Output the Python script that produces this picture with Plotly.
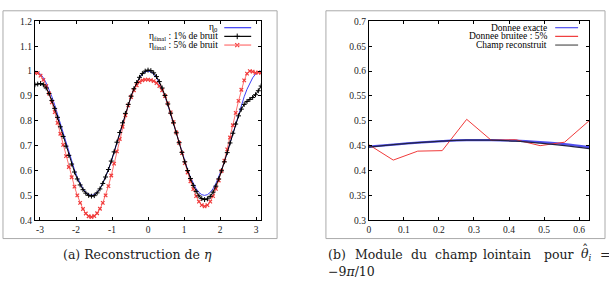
import numpy as np
import plotly.graph_objects as go

# ---------------- data: left panel (eta on [-pi, pi]) ----------------
n_pts = 81
theta = np.linspace(-np.pi, np.pi, n_pts)

eta0 = [1.000, 0.997, 0.988, 0.973, 0.952, 0.927, 0.897, 0.864, 0.827, 0.789,
        0.750, 0.711, 0.673, 0.636, 0.603, 0.573, 0.548, 0.527, 0.512, 0.503,
        0.500, 0.503, 0.512, 0.527, 0.548, 0.573, 0.603, 0.636, 0.673, 0.711,
        0.750, 0.789, 0.827, 0.864, 0.897, 0.927, 0.952, 0.973, 0.988, 0.997,
        1.000, 0.997, 0.988, 0.973, 0.952, 0.927, 0.897, 0.864, 0.827, 0.789,
        0.750, 0.711, 0.673, 0.636, 0.603, 0.573, 0.548, 0.527, 0.512, 0.503,
        0.500, 0.503, 0.512, 0.527, 0.548, 0.573, 0.603, 0.636, 0.673, 0.711,
        0.750, 0.789, 0.827, 0.864, 0.897, 0.927, 0.952, 0.973, 0.988, 0.997,
        1.000]

eta_1pct = [0.945, 0.948, 0.950, 0.945, 0.932, 0.910, 0.882, 0.850, 0.814, 0.776,
            0.737, 0.698, 0.661, 0.626, 0.594, 0.566, 0.542, 0.523, 0.509, 0.500,
            0.497, 0.499, 0.510, 0.526, 0.548, 0.574, 0.604, 0.638, 0.675, 0.714,
            0.753, 0.792, 0.830, 0.866, 0.899, 0.929, 0.954, 0.975, 0.990, 1.000,
            1.004, 1.002, 0.993, 0.978, 0.958, 0.932, 0.902, 0.868, 0.831, 0.792,
            0.752, 0.712, 0.673, 0.635, 0.600, 0.568, 0.540, 0.516, 0.498, 0.487,
            0.483, 0.486, 0.496, 0.513, 0.537, 0.566, 0.599, 0.635, 0.672, 0.711,
            0.750, 0.787, 0.820, 0.847, 0.866, 0.878, 0.886, 0.894, 0.905, 0.921,
            0.940]

eta_5pct = [0.993, 0.992, 0.982, 0.965, 0.940, 0.910, 0.874, 0.835, 0.792, 0.748,
            0.703, 0.658, 0.614, 0.573, 0.535, 0.500, 0.470, 0.445, 0.427, 0.416,
            0.413, 0.417, 0.428, 0.446, 0.470, 0.500, 0.537, 0.580, 0.628, 0.677,
            0.727, 0.776, 0.822, 0.862, 0.896, 0.923, 0.943, 0.956, 0.963, 0.966,
            0.966, 0.964, 0.960, 0.952, 0.940, 0.923, 0.900, 0.870, 0.834, 0.795,
            0.753, 0.711, 0.670, 0.630, 0.592, 0.557, 0.525, 0.497, 0.475, 0.461,
            0.456, 0.461, 0.475, 0.497, 0.526, 0.560, 0.598, 0.640, 0.685, 0.733,
            0.782, 0.832, 0.880, 0.925, 0.963, 0.990, 1.000, 0.998, 0.993, 0.995,
            0.993]

x_ticks_left = [-3, -2, -1, 0, 1, 2, 3]
x_ticklabels_left = ["-3", "-2", "-1", "0", "1", "2", "3"]
y_ticks_left = [0.4, 0.5, 0.6, 0.7, 0.8, 0.9, 1.0, 1.1, 1.2]
y_ticklabels_left = ["0.4", "0.5", "0.6", "0.7", "0.8", "0.9", "1", "1.1", "1.2"]

# ---------------- data: right panel (far field modulus) ----------------
phi = np.linspace(0, np.pi / 5, 10)
champ_exact = [0.448, 0.452, 0.456, 0.459, 0.461, 0.461, 0.460, 0.457, 0.453, 0.447]
champ_bruite = [0.452, 0.421, 0.439, 0.440, 0.503, 0.461, 0.462, 0.450, 0.457, 0.500]
champ_recon = [0.447, 0.452, 0.456, 0.459, 0.461, 0.461, 0.459, 0.455, 0.450, 0.444]

x_ticks_right = [0, 0.1, 0.2, 0.3, 0.4, 0.5, 0.6]
y_ticks_right = [0.3, 0.35, 0.4, 0.45, 0.5, 0.55, 0.6, 0.65, 0.7]

# ---------------- styling ----------------
W, H = 609, 287
TIMES = "Liberation Serif"
CMR = "DejaVu Serif"
BLUE = "#3b3bf5"
RED = "#f03a3a"
BLACK = "#000000"

fig = go.Figure()

# Left panel traces
fig.add_trace(go.Scatter(x=theta, y=eta0, mode="lines", line=dict(color=BLUE, width=1),
                         xaxis="x", yaxis="y", showlegend=False))
fig.add_trace(go.Scatter(x=theta, y=eta_5pct, mode="lines+markers",
                         line=dict(color="#ff7070", width=1),
                         marker=dict(symbol="x-thin", size=3.5, line=dict(color=RED, width=1.2)),
                         xaxis="x", yaxis="y", showlegend=False))
fig.add_trace(go.Scatter(x=theta, y=eta_1pct, mode="lines+markers",
                         line=dict(color=BLACK, width=1),
                         marker=dict(symbol="cross-thin", size=3.5, line=dict(color=BLACK, width=1)),
                         xaxis="x", yaxis="y", showlegend=False))

# Right panel traces
fig.add_trace(go.Scatter(x=phi, y=champ_exact, mode="lines", line=dict(color="#5050f0", width=2.2, shape="spline"),
                         xaxis="x2", yaxis="y2", showlegend=False))
fig.add_trace(go.Scatter(x=phi, y=champ_bruite, mode="lines", line=dict(color=RED, width=1),
                         xaxis="x2", yaxis="y2", showlegend=False))
fig.add_trace(go.Scatter(x=phi, y=champ_recon, mode="lines", line=dict(color="#222244", width=1.2, shape="spline"),
                         xaxis="x2", yaxis="y2", showlegend=False))

# Legend sample markers on a pixel-space overlay axis
fig.add_trace(go.Scatter(x=[236], y=[32.5], mode="markers",
                         marker=dict(symbol="cross-thin", size=4, line=dict(color=BLACK, width=1)),
                         xaxis="x3", yaxis="y3", showlegend=False, hoverinfo="skip"))
fig.add_trace(go.Scatter(x=[236], y=[41.5], mode="markers",
                         marker=dict(symbol="x-thin", size=4, line=dict(color=RED, width=1.2)),
                         xaxis="x3", yaxis="y3", showlegend=False, hoverinfo="skip"))


def px_x(p):
    return p / W


def px_y(p):
    return 1 - p / H


axis_common = dict(showline=True, linecolor="black", linewidth=1, mirror="ticks",
                   ticks="inside", ticklen=3, tickcolor="black", showgrid=False, zeroline=False,
                   tickfont=dict(family=TIMES, size=9.5, color="#222"))

fig.update_layout(
    width=W, height=H, margin=dict(l=0, r=0, t=0, b=0),
    paper_bgcolor="white", plot_bgcolor="rgba(0,0,0,0)",
    font=dict(family=TIMES),
    xaxis=dict(domain=[px_x(33), px_x(260)], range=[-np.pi, np.pi], tickvals=x_ticks_left,
               ticktext=x_ticklabels_left, anchor="y", **axis_common),
    yaxis=dict(domain=[px_y(223), px_y(17)], range=[0.4, 1.2], tickvals=y_ticks_left,
               ticktext=y_ticklabels_left, anchor="x", **axis_common),
    xaxis2=dict(domain=[px_x(368), px_x(589)], range=[0, np.pi / 5], tickvals=x_ticks_right,
                anchor="y2", **axis_common),
    yaxis2=dict(domain=[px_y(223), px_y(17)], range=[0.3, 0.7], tickvals=y_ticks_right,
                anchor="x2", **axis_common),
    xaxis3=dict(domain=[0, 1], range=[0, W], visible=False, anchor="y3"),
    yaxis3=dict(domain=[0, 1], range=[H, 0], visible=False, anchor="x3"),
)

shapes = []
# outer grey frames
shapes.append(dict(type="rect", xref="paper", yref="paper", x0=px_x(1), x1=px_x(276),
                   y0=px_y(242), y1=px_y(6), line=dict(color="#aaaaaa", width=1)))
shapes.append(dict(type="rect", xref="paper", yref="paper", x0=px_x(325), x1=px_x(605),
                   y0=px_y(242), y1=px_y(6), line=dict(color="#aaaaaa", width=1)))

# legend line samples (left)
for yy, col in [(23.5, BLUE), (32.5, BLACK), (41.5, "#ff7070")]:
    shapes.append(dict(type="line", xref="paper", yref="paper", x0=px_x(223), x1=px_x(250),
                       y0=px_y(yy), y1=px_y(yy), line=dict(color=col, width=1.2)))
# legend line samples (right)
for yy, col in [(23.5, "#5050f0"), (32.5, RED), (41.5, "#555555")]:
    shapes.append(dict(type="line", xref="paper", yref="paper", x0=px_x(555), x1=px_x(578),
                       y0=px_y(yy), y1=px_y(yy), line=dict(color=col, width=1.2)))
fig.update_layout(shapes=shapes)

ann = []
leg_left = ["η<sub>0</sub>", "η<sub>final</sub> : 1% de bruit", "η<sub>final</sub> : 5% de bruit"]
for yy, txt in zip([23.5, 32.5, 41.5], leg_left):
    ann.append(dict(text=txt, xref="paper", yref="paper", x=px_x(219), y=px_y(yy),
                    xanchor="right", yanchor="middle", showarrow=False,
                    font=dict(family=TIMES, size=9.5, color="black")))
leg_right = ["Donnee exacte", "Donnee bruitee : 5%", "Champ reconstruit"]
for yy, txt in zip([23.5, 32.5, 41.5], leg_right):
    ann.append(dict(text=txt, xref="paper", yref="paper", x=px_x(549), y=px_y(yy),
                    xanchor="right", yanchor="middle", showarrow=False,
                    font=dict(family=TIMES, size=9.5, color="black")))

# captions
cap_font = dict(family=CMR, size=12.5, color="#222")
ann.append(dict(text="(a) Reconstruction de <i>η</i>", xref="paper", yref="paper",
                x=px_x(136), y=px_y(258), xanchor="center", yanchor="middle", showarrow=False,
                font=cap_font))
cap_b_words = ["(b)", "Module", "du", "champ", "lointain", "pour", "<i>θ</i><sub><i>i</i></sub>", "="]
cap_b_left = [325, 352, 408, 432, 481, 542, 579, 598]
for w, xl in zip(cap_b_words, cap_b_left):
    ann.append(dict(text=w, xref="paper", yref="paper", x=px_x(xl), y=px_y(258),
                    xanchor="left", yanchor="middle", showarrow=False, font=cap_font))
# circumflex accent over theta
ann.append(dict(text="ˆ", xref="paper", yref="paper", x=px_x(585), y=px_y(253),
                xanchor="center", yanchor="middle", showarrow=False, font=cap_font))
ann.append(dict(text="−9<i>π</i>/10", xref="paper", yref="paper",
                x=px_x(325), y=px_y(276), xanchor="left", yanchor="middle", showarrow=False,
                font=cap_font))
fig.update_layout(annotations=ann)

fig.write_html("out.html")
